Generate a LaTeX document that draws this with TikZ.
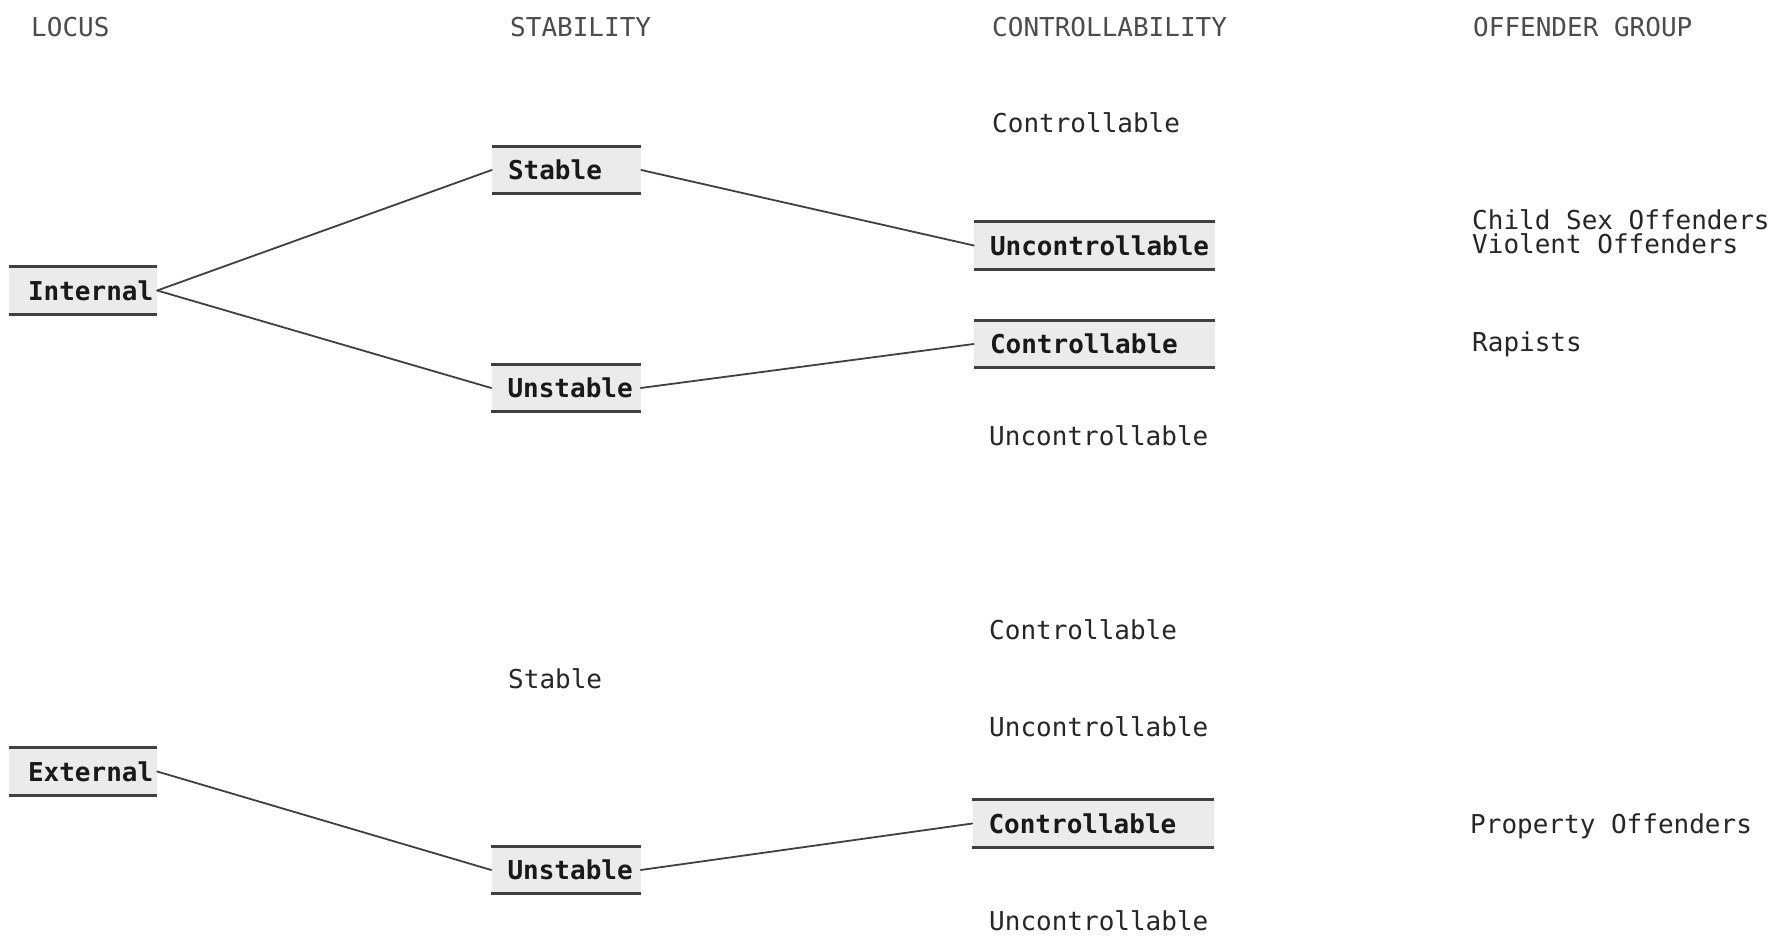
\documentclass[tikz,border=0pt]{standalone}
\usepackage{fontspec}
\newfontfamily\tw{DejaVu Sans Mono}
\begin{document}
\begin{tikzpicture}[x=1pt,y=-1pt,
  every node/.style={font=\tw\fontsize{26}{24}\selectfont, text=black!85},
  hd/.style={anchor=base west, inner sep=0, text=black!70},
  lbl/.style={anchor=base west, inner sep=0},
  hb/.style 2 args={fill=black!8, inner xsep=#2, inner ysep=0, minimum height=47pt,
    text width=#1, align=left, text=black!90,
    font=\tw\bfseries\fontsize{26}{24}\selectfont},
  rule/.style={line width=3pt, draw=black!75},
  conn/.style={line width=1.8pt, draw=black!75, line cap=round}]
\useasboundingbox[fill=white] (0,0) rectangle (1789,941);

% headers
\node[hd] (hLocus) at (31,37) {LOCUS};
\node[hd] (hStab) at (510,37) {STABILITY};
\node[hd] (hCtrl) at (992,37) {CONTROLLABILITY};
\node[hd] (hOff) at (1473,37) {OFFENDER GROUP};

% highlighted boxes
\node[hb={110pt}{19pt}] (int) at (83,290.5) {Internal};
\node[hb={110pt}{19pt}] (ext) at (83,771.5) {External};
\node[hb={117pt}{16pt}] (stab) at (566.5,170) {Stable};
\node[hb={117pt}{16pt}] (unst) at (566,388) {Unstable};
\node[hb={117pt}{16pt}] (unstE) at (566,870) {Unstable};
\node[hb={209pt}{16pt}] (unc) at (1094.5,245.5) {Uncontrollable};
\node[hb={209pt}{16pt}] (con) at (1094.5,344) {Controllable};
\node[hb={209pt}{16pt}] (conE) at (1093,823.5) {Controllable};

\foreach \n in {int,ext,stab,unst,unstE,unc,con,conE}{
  \draw[rule] (\n.north west) -- (\n.north east);
  \draw[rule] (\n.south west) -- (\n.south east);
}

% plain labels
\node[lbl] (c1) at (992,133) {Controllable};
\node[lbl] (u1) at (989,445) {Uncontrollable};
\node[lbl] (c2) at (989,639) {Controllable};
\node[lbl] (s2) at (508,688) {Stable};
\node[lbl] (u2) at (989,736) {Uncontrollable};
\node[lbl] (u3) at (989,930) {Uncontrollable};
\node[lbl] (g1) at (1472,230) {Child Sex Offenders};
\node[lbl] (g2) at (1472,254) {Violent Offenders};
\node[lbl] (g3) at (1472,352) {Rapists};
\node[lbl] (g4) at (1470,833) {Property Offenders};

% connectors
\draw[conn] (int.east) -- (stab.west);
\draw[conn] (int.east) -- (unst.west);
\draw[conn] (stab.east) -- (unc.west);
\draw[conn] (unst.east) -- (con.west);
\draw[conn] (ext.east) -- (unstE.west);
\draw[conn] (unstE.east) -- (conE.west);
\end{tikzpicture}
\end{document}
